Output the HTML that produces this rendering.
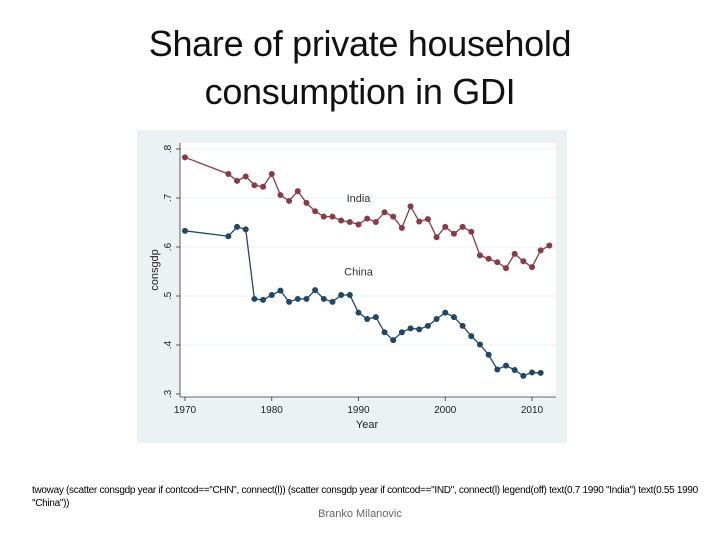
<!DOCTYPE html>
<html><head><meta charset="utf-8"><style>
body{margin:0;background:#fff;width:720px;height:540px;overflow:hidden;font-family:"Liberation Sans",sans-serif;position:relative}
.title{position:absolute;left:0;width:720px;text-align:center;font-size:36px;color:#111;line-height:48px;top:20px;letter-spacing:-0.3px}
.cmd{position:absolute;left:32px;top:484px;width:675px;font-size:10px;line-height:13px;color:#000;letter-spacing:-0.3px}
.auth{position:absolute;left:0;width:720px;text-align:center;top:508px;font-size:11px;color:#666}
</style></head><body>
<div class="title">Share of private household<br>consumption in GDI</div>
<svg id="chart" width="720" height="540" style="position:absolute;left:0;top:0"></svg>
<div class="cmd">twoway (scatter consgdp year if contcod=="CHN", connect(l)) (scatter consgdp year if contcod=="IND", connect(l) legend(off) text(0.7 1990 "India") text(0.55 1990 "China"))</div>
<div class="auth">Branko Milanovic</div>
<script>
const yearsIND=[1970,1975,1976,1977,1978,1979,1980,1981,1982,1983,1984,1985,1986,1987,1988,1989,1990,1991,1992,1993,1994,1995,1996,1997,1998,1999,2000,2001,2002,2003,2004,2005,2006,2007,2008,2009,2010,2011,2012];
const valsIND=[.783,.749,.735,.744,.726,.723,.749,.706,.694,.714,.690,.673,.662,.662,.654,.651,.646,.658,.651,.671,.662,.639,.683,.652,.657,.620,.641,.627,.641,.631,.583,.576,.569,.557,.586,.571,.559,.593,.603];
const yearsCHN=[1970,1975,1976,1977,1978,1979,1980,1981,1982,1983,1984,1985,1986,1987,1988,1989,1990,1991,1992,1993,1994,1995,1996,1997,1998,1999,2000,2001,2002,2003,2004,2005,2006,2007,2008,2009,2010,2011];
const valsCHN=[.633,.622,.641,.636,.494,.492,.502,.511,.488,.494,.494,.512,.494,.488,.502,.502,.466,.453,.457,.426,.410,.426,.434,.432,.439,.453,.466,.457,.439,.418,.401,.380,.350,.358,.349,.337,.344,.343];
const yTicks=[.3,.4,.5,.6,.7,.8];
const xTicks=[1970,1980,1990,2000,2010];
const NS="http://www.w3.org/2000/svg";
const svg=document.getElementById('chart');
const X=v=>185+(v-1970)*8.675;
const Y=v=>149+(.8-v)*490;
function mk(t,a){const e=document.createElementNS(NS,t);for(const k in a)e.setAttribute(k,a[k]);svg.appendChild(e);return e;}
let e;
e=mk('rect',{x:137,y:130,width:430,height:313,fill:'#eaf2f3'});


e=mk('rect',{x:180,y:143,width:376,height:254,fill:'#fff'});


yTicks.forEach(t=>{
 e=mk('line',{x1:180,x2:556,y1:Y(t),y2:Y(t),stroke:'#eaf2f3','stroke-width':1});
 
 
 mk('line',{x1:176,x2:180,y1:Y(t),y2:Y(t),stroke:'#333','stroke-width':0.8});
 e=mk('text',{x:0,y:0,'font-size':10,fill:'#222','text-anchor':'middle',transform:`translate(171,${Y(t)}) rotate(-90)`});
 e.textContent=String(t).replace('0.','.');
 
 
});
mk('line',{x1:180,x2:180,y1:143,y2:397,stroke:'#333','stroke-width':0.8});
mk('line',{x1:180,x2:556,y1:397,y2:397,stroke:'#333','stroke-width':0.8});
xTicks.forEach(t=>{
 mk('line',{x1:X(t),x2:X(t),y1:397,y2:401,stroke:'#333','stroke-width':0.8});
 e=mk('text',{x:X(t),y:413,'font-size':10,fill:'#222','text-anchor':'middle'});
 e.textContent=t;
 
 
});
e=mk('text',{x:367,y:428,'font-size':11,fill:'#222','text-anchor':'middle'});e.textContent='Year';


e=mk('text',{x:0,y:0,'font-size':11,fill:'#222','text-anchor':'middle',transform:'translate(158,270) rotate(-90)'});e.textContent='consgdp';


function series(xs,vs,col,name){
 e=mk('polyline',{points:xs.map((x,i)=>X(x)+','+Y(vs[i])).join(' '),fill:'none',stroke:col,'stroke-width':1.3});
 
 
 xs.forEach((x,i)=>{e=mk('circle',{cx:X(x),cy:Y(vs[i]),r:3,fill:col});
 
 });
}
series(yearsIND,valsIND,'#8b3a44','india');
series(yearsCHN,valsCHN,'#1f4868','china');
e=mk('text',{x:X(1990),y:Y(.7)+4,'font-size':11,fill:'#333','text-anchor':'middle'});e.textContent='India';


e=mk('text',{x:X(1990),y:Y(.55)+4,'font-size':11,fill:'#333','text-anchor':'middle'});e.textContent='China';


</script>
</body></html>
